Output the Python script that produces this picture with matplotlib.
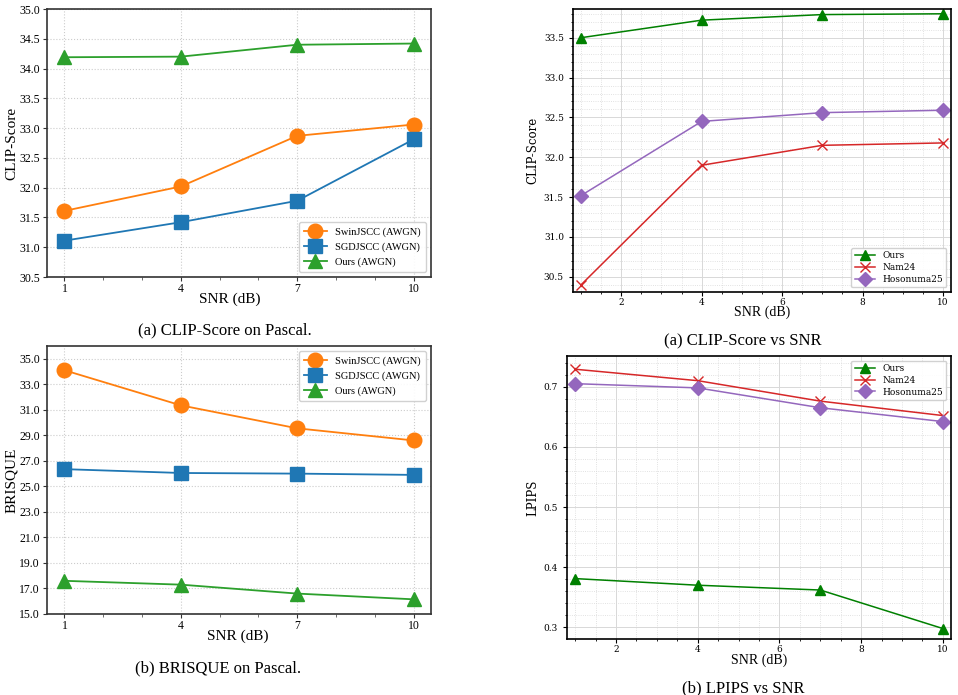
import matplotlib
matplotlib.use("Agg")
import matplotlib.pyplot as plt
from matplotlib.ticker import FormatStrFormatter, MultipleLocator, AutoMinorLocator

snr = [1, 4, 7, 10]

# (a) CLIP-Score on Pascal
clip_swin = [31.61, 32.02, 32.87, 33.06]
clip_sgd = [31.11, 31.42, 31.78, 32.81]
clip_ours = [34.19, 34.20, 34.40, 34.42]

# (b) BRISQUE on Pascal
bris_swin = [34.10, 31.35, 29.55, 28.60]
bris_sgd = [26.35, 26.05, 26.00, 25.90]
bris_ours = [17.60, 17.30, 16.60, 16.15]

# Right: CLIP-Score vs SNR
r_clip_ours = [33.50, 33.72, 33.79, 33.80]
r_clip_nam = [30.40, 31.90, 32.15, 32.18]
r_clip_hoso = [31.52, 32.45, 32.56, 32.59]

# Right: LPIPS vs SNR
lp_ours = [0.381, 0.370, 0.362, 0.298]
lp_nam = [0.729, 0.710, 0.676, 0.652]
lp_hoso = [0.705, 0.698, 0.665, 0.642]

left_labels = ["SwinJSCC (AWGN)", "SGDJSCC (AWGN)", "Ours (AWGN)"]
right_labels = ["Ours", "Nam24", "Hosonuma25"]

W, H = 958, 695
fig = plt.figure(figsize=(W / 100, H / 100), dpi=100)

def rect(l, t, r, b):
    return [l / W, 1 - b / H, (r - l) / W, (b - t) / H]

TIMES = "Liberation Serif"
DJS = "DejaVu Serif"

def style_left(ax):
    for s in ax.spines.values():
        s.set_color("#333333")
        s.set_linewidth(1.2)
    ax.grid(True, which="major", linestyle=":", color="#cccccc", linewidth=0.8)
    ax.set_xticks(snr)
    ax.set_xlim(0.55, 10.45)
    ax.xaxis.set_minor_locator(MultipleLocator(1))
    ax.tick_params(axis="x", which="minor", length=2, width=0.6, color="#555555")
    ax.tick_params(axis="both", which="major", length=3, labelsize=8.5, color="#333333")
    ax.tick_params(axis="x", which="major", pad=1)
    ax.tick_params(axis="y", which="major", pad=2)
    for lab in ax.get_xticklabels() + ax.get_yticklabels():
        lab.set_fontfamily(TIMES)
    ax.yaxis.set_major_formatter(FormatStrFormatter("%.1f"))

def plot_left(ax, ys):
    cols = ["#ff7f0e", "#1f77b4", "#2ca02c"]
    mks = ["o", "s", "^"]
    mss = [10.5, 9.5, 10]
    for y, c, m, ms, lab in zip(ys, cols, mks, mss, left_labels):
        ax.plot(snr, y, color=c, marker=m, markersize=ms, linewidth=1.3, label=lab)

# Top-left
ax1 = fig.add_axes(rect(47, 9, 431, 277))
plot_left(ax1, [clip_swin, clip_sgd, clip_ours])
ax1.set_ylim(30.5, 35.0)
ax1.set_yticks([30.5 + 0.5 * i for i in range(10)])
style_left(ax1)
ax1.set_ylabel("CLIP-Score", fontfamily=TIMES, fontsize=11)
ax1.yaxis.set_label_coords((18 - 47) / 384, 0.5)
ax1.legend(loc="lower right", prop={"family": TIMES, "size": 7.5}, framealpha=0.9,
           edgecolor="#cccccc", borderpad=0.5, handlelength=2.2, labelspacing=0.5)

# Bottom-left
ax3 = fig.add_axes(rect(47, 346, 431, 614))
plot_left(ax3, [bris_swin, bris_sgd, bris_ours])
ax3.set_ylim(15.0, 36.0)
ax3.set_yticks([15.0 + 2 * i for i in range(11)])
style_left(ax3)
ax3.set_ylabel("BRISQUE", fontfamily=TIMES, fontsize=11)
ax3.yaxis.set_label_coords((18 - 47) / 384, 0.5)
ax3.legend(loc="upper right", prop={"family": TIMES, "size": 7.5}, framealpha=0.9,
           edgecolor="#cccccc", borderpad=0.5, handlelength=2.2, labelspacing=0.5)

def style_right(ax):
    for s in ax.spines.values():
        s.set_color("black")
        s.set_linewidth(1.2)
    ax.xaxis.set_minor_locator(AutoMinorLocator(4))
    ax.yaxis.set_minor_locator(AutoMinorLocator(5))
    ax.grid(True, which="major", linestyle="-", color="#d8d8d8", linewidth=0.7)
    ax.grid(True, which="minor", linestyle=":", color="#d8d8d8", linewidth=0.6)
    ax.tick_params(axis="both", which="major", length=3, labelsize=6.5)
    ax.tick_params(axis="x", which="major", pad=1)
    ax.tick_params(axis="both", which="minor", length=1.5)
    for lab in ax.get_xticklabels() + ax.get_yticklabels():
        lab.set_fontfamily(DJS)
    ax.set_xlim(0.8, 10.2)
    ax.set_xticks([2, 4, 6, 8, 10])

def plot_right(ax, ys):
    cols = ["#008000", "#d62728", "#9467bd"]
    mks = ["^", "x", "D"]
    mss = [6.5, 7, 7]
    for y, c, m, ms, lab in zip(ys, cols, mks, mss, right_labels):
        ax.plot(snr, y, color=c, marker=m, markersize=ms, linewidth=1.1, label=lab)

# Top-right
ax2 = fig.add_axes(rect(573, 9, 951, 292))
plot_right(ax2, [r_clip_ours, r_clip_nam, r_clip_hoso])
ax2.set_ylim(30.31, 33.86)
ax2.set_yticks([30.5, 31.0, 31.5, 32.0, 32.5, 33.0, 33.5])
style_right(ax2)
ax2.yaxis.set_major_formatter(FormatStrFormatter("%.1f"))
ax2.set_ylabel("CLIP-Score", fontfamily=DJS, fontsize=8.5, labelpad=3)
ax2.legend(loc="lower right", prop={"family": DJS, "size": 6.5}, framealpha=0.9,
           edgecolor="#cccccc", borderpad=0.4, handlelength=2.2, labelspacing=0.3)

# Bottom-right
ax4 = fig.add_axes(rect(567, 356, 951, 639))
plot_right(ax4, [lp_ours, lp_nam, lp_hoso])
ax4.set_ylim(0.2806, 0.751)
ax4.set_yticks([0.3, 0.4, 0.5, 0.6, 0.7])
style_right(ax4)
ax4.set_ylabel("LPIPS", fontfamily=DJS, fontsize=8.5, labelpad=3)
ax4.legend(loc="upper right", prop={"family": DJS, "size": 6.5}, framealpha=0.9,
           edgecolor="#cccccc", borderpad=0.4, handlelength=2.2, labelspacing=0.3)

def ftext(x, y, s, size):
    fig.text(x / W, 1 - y / H, s, ha="center", va="center", fontfamily=TIMES, fontsize=size)

ftext(230, 299, "SNR (dB)", 11)
ftext(225, 330, "(a) CLIP-Score on Pascal.", 12)
ftext(238, 636, "SNR (dB)", 11)
ftext(218, 668, "(b) BRISQUE on Pascal.", 12)
ftext(762, 312, "SNR (dB)", 10)
ftext(743, 341, "(a) CLIP-Score vs SNR", 12)
ftext(759, 660, "SNR (dB)", 10)
ftext(743, 688, "(b) LPIPS vs SNR", 12)

fig.savefig("out.png", dpi=100)
